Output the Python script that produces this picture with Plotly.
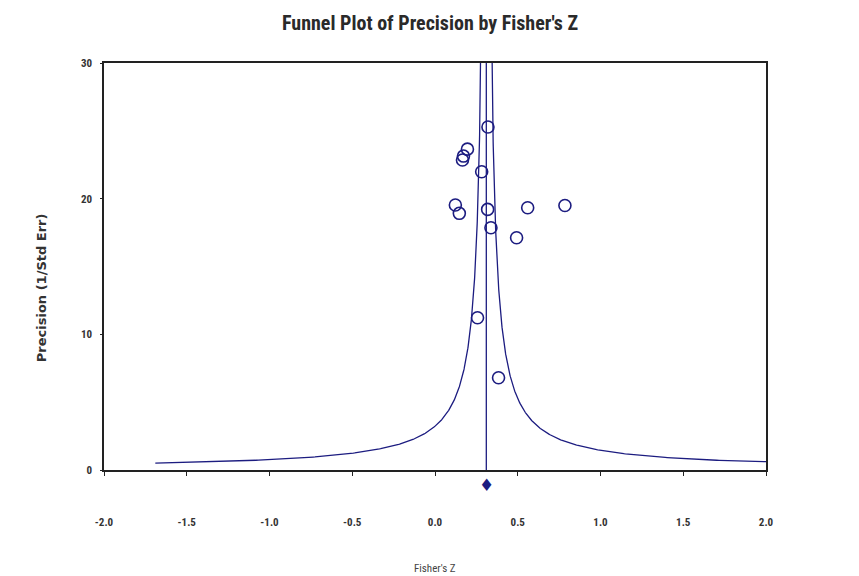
import numpy as np
import plotly.graph_objects as go

# Study data: Fisher's Z and precision (1/SE)
fisher_z = [0.320, 0.196, 0.172, 0.166, 0.282, 0.123, 0.147, 0.318, 0.560, 0.785, 0.338, 0.493, 0.257, 0.384]
precision = [25.28, 23.65, 23.14, 22.85, 21.98, 19.53, 18.92, 19.21, 19.33, 19.50, 17.86, 17.12, 11.22, 6.80]

pooled_z = 0.31
funnel_k = 1.0
prec_min, prec_max = 0.5, 40.0

x_ticks = [-2.0, -1.5, -1.0, -0.5, 0.0, 0.5, 1.0, 1.5, 2.0]
y_ticks = [0, 10, 20, 30]

navy = "#1c1c80"
narrow = "Liberation Sans Narrow, Arial Narrow, Roboto Condensed, Roboto, sans-serif"

p = np.geomspace(prec_min, prec_max, 400)
left = pooled_z - funnel_k / p
right = pooled_z + funnel_k / p

fig = go.Figure()
fig.add_trace(go.Scatter(x=left, y=p, mode="lines", line=dict(color=navy, width=1.3), hoverinfo="skip"))
fig.add_trace(go.Scatter(x=right, y=p, mode="lines", line=dict(color=navy, width=1.3), hoverinfo="skip"))
fig.add_trace(go.Scatter(x=[pooled_z, pooled_z], y=[0, 30], mode="lines", line=dict(color=navy, width=1.3), hoverinfo="skip"))
fig.add_trace(go.Scatter(x=fisher_z, y=precision, mode="markers",
                         marker=dict(symbol="circle-open", size=12, color=navy, line=dict(width=1.6, color=navy))))

fig.update_layout(
    width=852, height=569,
    margin=dict(l=96, r=94, t=55, b=107),
    paper_bgcolor="white", plot_bgcolor="white",
    showlegend=False,
    annotations=[
        dict(text="<b>Funnel Plot of Precision by Fisher's Z</b>", x=0.492, xref="paper", y=1.098, yref="paper",
             yanchor="middle", showarrow=False, font=dict(family=narrow, size=20, color="#2a2a2a")),
        dict(text="Fisher's Z", x=0.5, xref="paper", y=-0.243, yref="paper", yanchor="middle",
             showarrow=False, font=dict(family=narrow, size=11, color="#444")),
        dict(text="<b>Precision (1/Std Err)</b>", x=-0.095, xref="paper", xanchor="center", y=0.447, yref="paper",
             yanchor="middle", textangle=-90, showarrow=False,
             font=dict(family="DejaVu Sans, sans-serif", size=13, color="#333")),
        dict(text="\u2666", x=pooled_z, xref="x", y=-0.037, yref="paper", xanchor="center", yanchor="middle",
             showarrow=False, font=dict(family="DejaVu Sans, sans-serif", size=17, color=navy)),
    ],
)
fig.update_xaxes(range=[-2.0, 2.0], tickvals=x_ticks, ticktext=[f"{v:.1f}" for v in x_ticks],
                 showgrid=False, zeroline=False, showline=True, mirror=True, linecolor="#222", linewidth=1.5,
                 ticks="outside", ticklen=4, tickcolor="#222", ticklabelstandoff=37,
                 tickfont=dict(family=narrow, size=11, color="#333", weight="bold"))
fig.update_yaxes(range=[0, 30], tickvals=y_ticks,
                 showgrid=False, zeroline=False, showline=True, mirror=True, linecolor="#222", linewidth=1.5,
                 ticks="outside", ticklen=2, tickcolor="#222", ticklabelstandoff=6,
                 tickfont=dict(family=narrow, size=11, color="#333", weight="bold"))

fig.write_html("out.html")
